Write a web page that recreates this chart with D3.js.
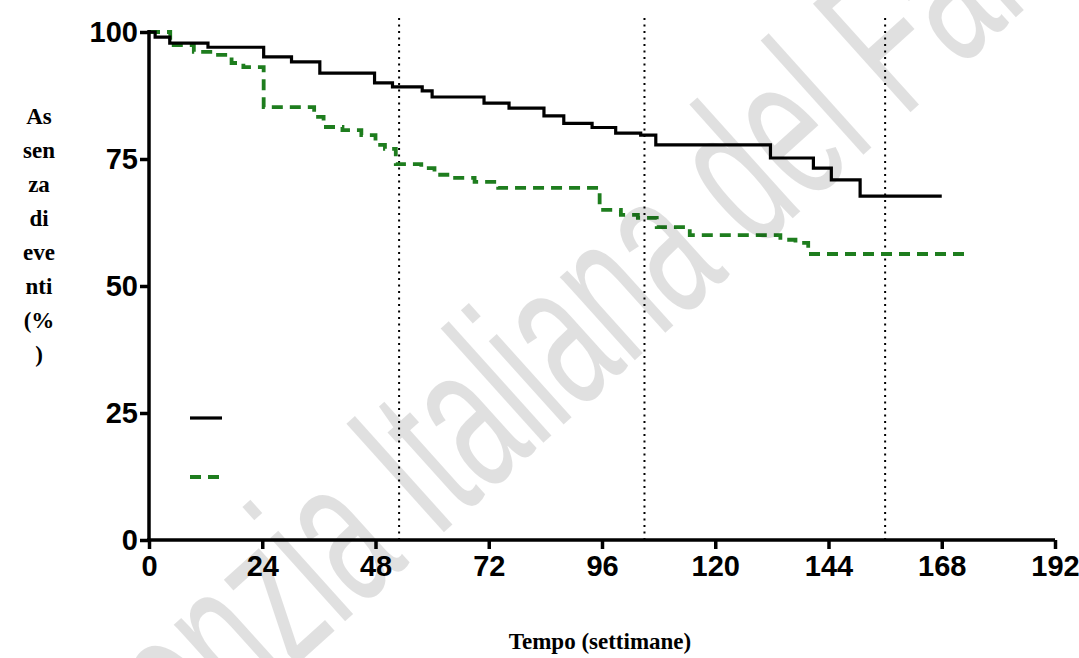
<!DOCTYPE html>
<html>
<head>
<meta charset="utf-8">
<script src="https://cdn.jsdelivr.net/npm/d3@7"></script>
<style>
  html, body { margin: 0; padding: 0; background: #fff; }
  svg { display: block; }
</style>
</head>
<body>
<svg id="chart" width="1079" height="658"></svg>
<script>
// ---- data ----
const xTicks = [0, 24, 48, 72, 96, 120, 144, 168, 192];
const yTicks = [0, 25, 50, 75, 100];
const yLabelLines = ["As", "sen", "za", "di", "eve", "nti", "(%", ")"];
const xTitle = "Tempo (settimane)";
const watermark = "Agenzia Italiana del Farmaco";
const refWeeks = [53, 105, 156];

// series 1 (black, solid): [week, % event-free]
const seriesA = [
  [0, 100], [1.3, 99.0], [4.4, 97.8], [12.5, 97.0], [24.3, 95.1], [30.2, 94.1],
  [36.2, 91.9], [47.8, 90.0], [51.6, 89.2], [57.9, 88.4], [60.0, 87.2],
  [71.0, 86.0], [76.3, 85.0], [83.7, 83.5], [87.9, 82.0], [93.9, 81.2],
  [98.9, 80.1], [104.2, 79.7], [107.4, 77.8], [131.7, 75.2], [140.8, 73.2],
  [144.6, 70.9], [150.7, 67.7], [168, 67.7]
];
// series 2 (green, dashed)
const seriesB = [
  [0, 100], [4.5, 97.4], [9.5, 96.1], [13.5, 95.5], [17.5, 93.9], [20.0, 93.1],
  [24.3, 85.2], [35.0, 83.3], [37.0, 81.3], [41.0, 80.7], [45.0, 79.7],
  [48.0, 77.8], [50.0, 77.0], [52.3, 74.0], [57.7, 73.2], [60.5, 71.9],
  [63.7, 71.3], [69.0, 70.5], [74.0, 69.3], [95.5, 65.0], [100.0, 64.0],
  [103.6, 63.4], [107.6, 61.6], [114.6, 60.0], [133.8, 59.1], [137.0, 58.5],
  [139.7, 56.3], [174, 56.3]
];

// ---- layout ----
const svg = d3.select("#chart");
const x = d3.scaleLinear().domain([0, 192]).range([149, 1055]);
const y = d3.scaleLinear().domain([0, 100]).range([540, 32]);

// reference dotted lines
svg.append("g").selectAll("line").data(refWeeks).join("line")
  .attr("x1", d => x(d)).attr("x2", d => x(d))
  .attr("y1", 18).attr("y2", y(0))
  .attr("stroke", "#000").attr("stroke-width", 2)
  .attr("stroke-dasharray", "2,4.5");

// curves
const line = d3.line().x(d => x(d[0])).y(d => y(d[1])).curve(d3.curveStepAfter);
svg.append("path").datum(seriesB).attr("d", line)
  .attr("fill", "none").attr("stroke", "#1e7d1e").attr("stroke-width", 3.8)
  .attr("stroke-dasharray", "11,7");
svg.append("path").datum(seriesA).attr("d", line)
  .attr("fill", "none").attr("stroke", "#000").attr("stroke-width", 3.2);

// axes
const fontNum = "'Liberation Sans', Arial, sans-serif";
const xAxis = svg.append("g").attr("transform", `translate(0,${y(0)})`)
  .call(d3.axisBottom(x).tickValues(xTicks).tickSize(9).tickPadding(6).tickSizeOuter(0));
const yAxis = svg.append("g").attr("transform", `translate(${x(0)},0)`)
  .call(d3.axisLeft(y).tickValues(yTicks).tickSize(9).tickPadding(2).tickSizeOuter(0));
[xAxis, yAxis].forEach(g => {
  g.select(".domain").attr("stroke", "#000").attr("stroke-width", 3.5);
  g.selectAll(".tick line").attr("stroke", "#000").attr("stroke-width", 3.5);
  g.selectAll(".tick text").attr("fill", "#000")
    .style("font-family", fontNum).style("font-weight", "bold").style("font-size", "29px");
});
xAxis.select(".domain").attr("d", `M${x(0) - 2},0H${x(192)}`);
yAxis.select(".domain").attr("d", `M0,${y(0) + 2}V${y(100) - 2}`);

// y title (stacked lines)
const fontSerif = "'Liberation Serif', 'Times New Roman', serif";
svg.append("text").attr("text-anchor", "middle")
  .style("font-family", fontSerif).style("font-weight", "bold").style("font-size", "23px")
  .selectAll("tspan").data(yLabelLines).join("tspan")
  .attr("x", 39).attr("y", (d, i) => 124 + i * 34).text(d => d);

// x title
svg.append("text").attr("x", 600).attr("y", 649).attr("text-anchor", "middle")
  .style("font-family", fontSerif).style("font-weight", "bold").style("font-size", "23px")
  .text(xTitle);

// legend symbols
svg.append("line").attr("x1", 190).attr("x2", 222).attr("y1", 418).attr("y2", 418)
  .attr("stroke", "#000").attr("stroke-width", 3.2);
svg.append("line").attr("x1", 190).attr("x2", 226).attr("y1", 477).attr("y2", 477)
  .attr("stroke", "#1e7d1e").attr("stroke-width", 3.8).attr("stroke-dasharray", "11,7");

// watermark (faint, on top)
svg.append("text")
  .attr("transform", "translate(80,860) rotate(-42) scale(0.58,1)")
  .style("font-family", fontNum).style("font-size", "212px")
  .attr("fill", "#000").attr("fill-opacity", 0.12)
  .text(watermark);
</script>
</body>
</html>
